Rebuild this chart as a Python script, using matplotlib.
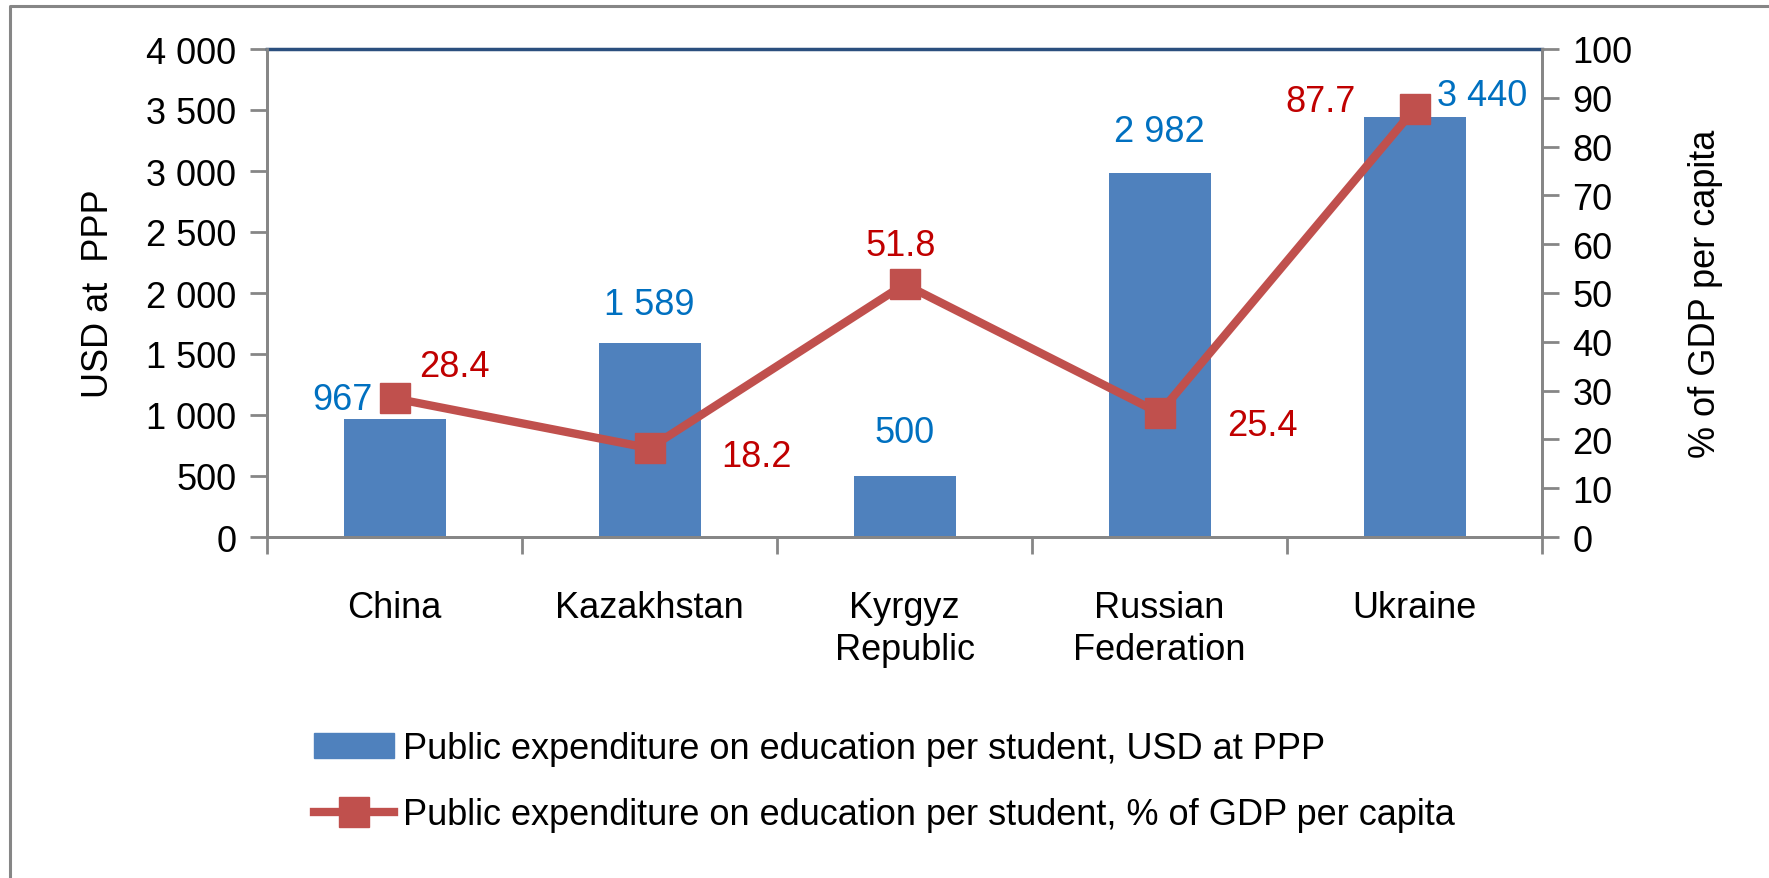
import matplotlib
matplotlib.use("Agg")
import matplotlib.pyplot as plt
from matplotlib.patches import Patch
from matplotlib.lines import Line2D
from matplotlib.ticker import FuncFormatter, MultipleLocator

categories = ["China", "Kazakhstan", "Kyrgyz\nRepublic", "Russian\nFederation", "Ukraine"]
usd_ppp = [967, 1589, 500, 2982, 3440]
pct_gdp = [28.4, 18.2, 51.8, 25.4, 87.7]
bar_label = "Public expenditure on education per student, USD at PPP"
line_label = "Public expenditure on education per student, % of GDP per capita"

# label offsets in pixels (placement only)
bar_offsets = [(-52, 20), (0, 39), (0, 43), (0, 42), (68, 22)]
line_offsets = [(60, 32), (107, -8), (-4, 39), (103, -12), (-94, 8)]

FONT = ["Liberation Sans Narrow", "Liberation Sans", "DejaVu Sans"]
plt.rcParams["font.family"] = FONT
FS = 26

W, H = 1769, 879
fig = plt.figure(figsize=(W / 100, H / 100), dpi=100)

# outer border (only left and top edges visible in the crop)
fig.add_artist(Line2D([10 / W, 10 / W, 1.0], [0.0, 1 - 7 / H, 1 - 7 / H],
                      transform=fig.transFigure, color="#868686", linewidth=2.2))

L, R, T, B = 267, 1542, 50, 538
ax = fig.add_axes([L / W, 1 - B / H, (R - L) / W, (B - T) / H])
x = list(range(len(categories)))
BLUE = "#4F81BD"
RED = "#C0504D"

ax.bar(x, usd_ppp, width=0.4, color=BLUE, zorder=2)
ax.set_xlim(-0.5, len(categories) - 0.5)
ax.set_ylim(0, 4000)
ax.yaxis.set_major_locator(MultipleLocator(500))
ax.yaxis.set_major_formatter(FuncFormatter(lambda v, p: f"{int(v):,}".replace(",", " ")))
ax.set_xticks(x)
ax.set_xticklabels(categories, fontsize=FS, linespacing=1.25)
ax.set_xticks([i + 0.5 for i in [-1] + x], minor=True)
ax.tick_params(axis="x", which="major", length=0, pad=38)
ax.tick_params(axis="x", which="minor", length=12, width=2, color="#868686", direction="out")
ax.tick_params(axis="y", length=12, width=2, color="#868686", labelsize=FS, pad=10)
for s in ["left", "bottom", "right"]:
    ax.spines[s].set_color("#868686")
    ax.spines[s].set_linewidth(2)
ax.spines["top"].set_color("#2B4F7E")
ax.spines["top"].set_linewidth(2.5)
ax.set_ylabel("USD at  PPP", fontsize=FS, labelpad=22)

for xi, v, (dx, dy) in zip(x, usd_ppp, bar_offsets):
    ax.annotate(f"{v:,}".replace(",", " "), (xi, v), xytext=(dx, dy),
                textcoords="offset pixels", ha="center", va="center",
                fontsize=FS, color="#0070C0")

ax2 = ax.twinx()
ax2.set_ylim(0, 100)
ax2.yaxis.set_major_locator(MultipleLocator(10))
ax2.plot(x, pct_gdp, color=RED, linewidth=6, marker="s", markersize=22,
         markerfacecolor=RED, markeredgecolor=RED, zorder=3)
ax2.tick_params(axis="y", length=12, width=2, color="#868686", labelsize=FS, pad=10)
for s in ["left", "bottom", "right"]:
    ax2.spines[s].set_color("#868686")
    ax2.spines[s].set_linewidth(2)
ax2.spines["top"].set_visible(False)
ax2.set_ylabel("% of GDP per capita", fontsize=FS, labelpad=40)

for xi, v, (dx, dy) in zip(x, pct_gdp, line_offsets):
    ax2.annotate(f"{v:.1f}", (xi, v), xytext=(dx, dy),
                 textcoords="offset pixels", ha="center", va="center",
                 fontsize=FS, color="#C00000")

handles = [Patch(facecolor=BLUE, edgecolor=BLUE),
           Line2D([0], [0], color=RED, linewidth=6, marker="s", markersize=22)]
fig.legend(handles, [bar_label, line_label], loc="upper left",
           bbox_to_anchor=(300 / W, 1 - 718 / H), frameon=False, fontsize=FS,
           handlelength=2.2, handleheight=0.7, handletextpad=0.25, labelspacing=0.85,
           borderaxespad=0)

fig.savefig("out.png", dpi=100)
